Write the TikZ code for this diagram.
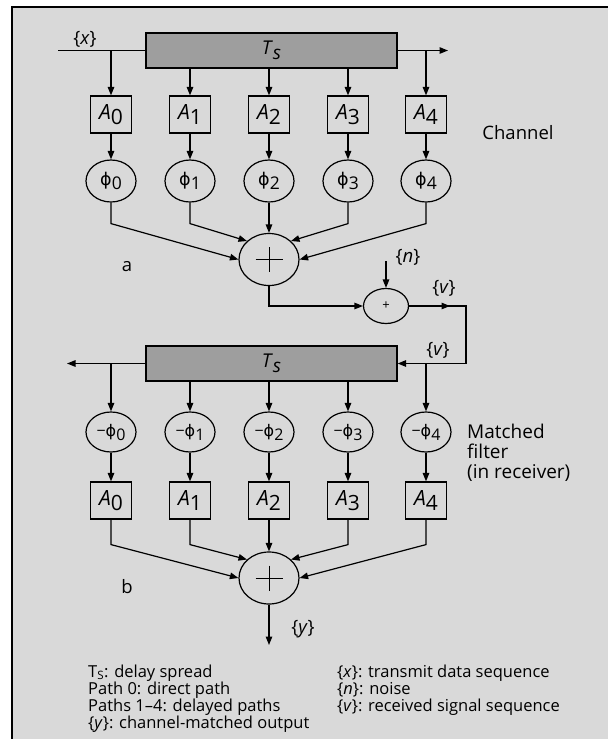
\documentclass[tikz,border=0pt]{standalone}
\usepackage{fontspec}
\setmainfont{Open Sans}
\newfontfamily\symf{DejaVu Sans}
\usetikzlibrary{arrows.meta,shapes.geometric}
\newcommand\lowsub[1]{\raisebox{-0.25em}{#1}}
\newcommand\phig{{\symf ϕ}}
\tikzset{
  ln/.style={line width=1.2pt},
  arr/.style={ln,-{Triangle[length=8.5pt,width=6.5pt]}},
  abox/.style={draw,line width=1.2pt,minimum width=41pt,minimum height=37pt,inner sep=0pt,font=\fontsize{21}{23}\selectfont},
  phin/.style={draw,ellipse,line width=1.2pt,minimum width=50pt,minimum height=42pt,inner sep=0pt,font=\fontsize{17.5}{19}\selectfont},
  mphin/.style={phin,minimum height=40pt,font=\fontsize{16}{18}\selectfont},
  delay/.style={draw,line width=1.2pt,fill=black!38,minimum width=251pt,minimum height=35pt,inner sep=0pt,font=\fontsize{19}{21}\selectfont},
  sumc/.style={draw,ellipse,line width=1.2pt,minimum width=60pt,minimum height=52pt,inner sep=0pt},
  adder/.style={draw,ellipse,line width=1.2pt,minimum width=45pt,minimum height=35pt,inner sep=0pt,font=\fontsize{13}{15}\selectfont},
  lbl/.style={font=\fontsize{18.5}{20}\selectfont,inner sep=0pt},
  legend/.style={font=\fontsize{16.5}{17}\selectfont,inner sep=0pt,align=left,anchor=north west},
}
\begin{document}
\begin{tikzpicture}[x=1pt,y=-1pt]
\useasboundingbox (0,0) rectangle (608,739);
\fill[black!15] (12,7) rectangle (608,739);
\draw[line width=1.5pt] (12,739) -- (12,7) -- (608,7);

% ---------------- channel (a)
\node[delay] (D1) at (271.5,50.5) {\textit{T}\lowsub{\textit{s}}};
\node[delay] (D2) at (271.5,363.5) {\textit{T}\lowsub{\textit{s}}};
\coordinate (xin) at (58,50.5);
\coordinate (xout) at (448,50.5);
\coordinate (t0) at (111,50.5);
\coordinate (t4) at (426,50.5);
\node[lbl] (xl) at (85,39) {\{\textit{x}\}};
\draw[ln] (xin) -- (D1.west);
\draw[arr] (D1.east) -- (xout);

\foreach \i/\x in {0/111,1/190,2/269,3/348,4/426}{
  \node[abox] (A\i) at (\x,114.5) {\textit{A}\lowsub{\i}};
  \node[phin] (P\i) at (\x,181) {\phig\lowsub{\i}};
  \draw[arr] (A\i) -- (P\i);
}
\draw[arr] (t0) -- (A0);
\draw[arr] (D1.south -| A1) -- (A1);
\draw[arr] (D1.south -| A2) -- (A2);
\draw[arr] (D1.south -| A3) -- (A3);
\draw[arr] (t4) -- (A4);

\node[sumc] (S1) at (269,259.5) {};
\draw[line width=1pt] (S1.center) ++(-13.5,0) -- ++(27,0);
\draw[line width=1pt] (S1.center) ++(0,-12.5) -- ++(0,25);
\draw[arr] (P0.south) -- ++(0,21) -- (S1.180);
\draw[arr] (P1.south) -- ++(0,21) -- (S1.140);
\draw[arr] (P2.south) -- (S1.north);
\draw[arr] (P3.south) -- ++(0,21) -- (S1.40);
\draw[arr] (P4.south) -- ++(0,21) -- (S1.0);

\node[lbl] (la) at (127,267) {a};
\node[lbl] (ch) at (518,133) {Channel};

% ---------------- noise adder
\node[adder] (N) at (386,306) {+};
\coordinate (ntop) at (386,261);
\node[lbl] (nl) at (408,257) {\{\textit{n}\}};
\draw[arr] (ntop) -- (N.north);
\draw[arr] (S1.south) |- (N.west);
\coordinate (vm) at (450,306);
\coordinate (vc) at (466,306);
\draw[arr] (N.east) -- (vm);
\draw[arr] (N.east) -- (vc) |- (D2.east);
\node[lbl] (v1) at (444,288) {\{\textit{v}\}};
\node[lbl] (v2) at (438,350) {\{\textit{v}\}};

% ---------------- matched filter (b)
\coordinate (yout) at (67,363.5);
\coordinate (u0) at (111,363.5);
\coordinate (u4) at (426,363.5);
\draw[arr] (D2.west) -- (yout);

\foreach \i/\x in {0/111,1/190,2/269,3/348,4/426}{
  \node[mphin] (Q\i) at (\x,432) {−\phig\lowsub{\i}};
  \node[abox] (B\i) at (\x,500.5) {\textit{A}\lowsub{\i}};
  \draw[arr] (Q\i) -- (B\i);
}
\draw[arr] (u0) -- (Q0);
\draw[arr] (D2.south -| Q1) -- (Q1);
\draw[arr] (D2.south -| Q2) -- (Q2);
\draw[arr] (D2.south -| Q3) -- (Q3);
\draw[arr] (u4) -- (Q4);

\node[sumc] (S2) at (269,578) {};
\draw[line width=1pt] (S2.center) ++(-13.5,0) -- ++(27,0);
\draw[line width=1pt] (S2.center) ++(0,-12.5) -- ++(0,25);
\draw[arr] (B0.south) -- ++(0,25) -- (S2.180);
\draw[arr] (B1.south) -- ++(0,25) -- (S2.140);
\draw[arr] (B2.south) -- (S2.north);
\draw[arr] (B3.south) -- ++(0,25) -- (S2.40);
\draw[arr] (B4.south) -- ++(0,25) -- (S2.0);

\coordinate (yend) at (269,645);
\draw[arr] (S2.south) -- (yend);
\node[lbl] (yl) at (303,629) {\{\textit{y}\}};
\node[lbl] (lb) at (127,587) {b};
\node[lbl,align=left,anchor=north west,font=\fontsize{19}{20}\selectfont] (mf) at (467,424) {Matched\\filter\\(in receiver)};

% ---------------- legend
\node[legend] (L1) at (88,664.5) {T\textsubscript{S}: delay spread\\Path 0: direct path\\Paths 1–4: delayed paths\\\{\textit{y}\}: channel-matched output};
\node[legend] (L2) at (337,664.5) {\{\textit{x}\}: transmit data sequence\\\{\textit{n}\}: noise\\\{\textit{v}\}: received signal sequence};
\end{tikzpicture}
\end{document}
